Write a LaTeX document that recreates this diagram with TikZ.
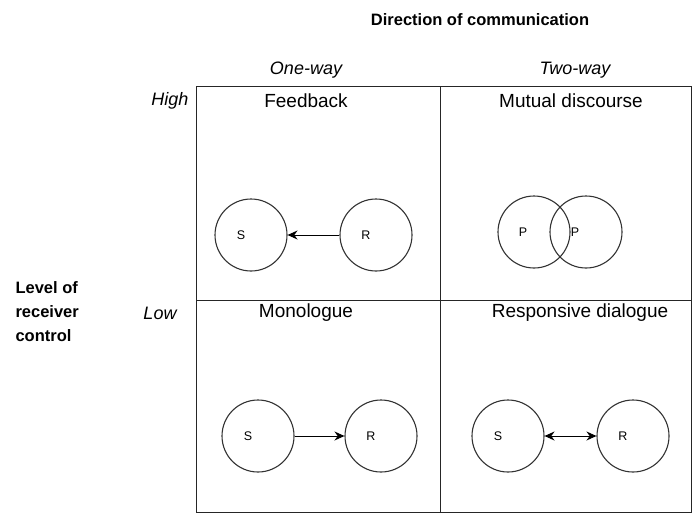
\documentclass[tikz,border=0pt]{standalone}
\usepackage{fontspec}
\setmainfont{Liberation Sans}
\usetikzlibrary{arrows.meta}
\begin{document}
\begin{tikzpicture}[x=1pt,y=-1pt,
  grid/.style={line width=1pt,draw=black!85},
  agent/.style={circle,draw=black!80,line width=1.1pt,minimum size=72pt,inner sep=0pt},
  lab/.style={font=\fontsize{12.5}{14}\selectfont},
  head/.style={font=\fontsize{19}{22}\selectfont},
  axis/.style={font=\itshape\fontsize{18}{21}\selectfont},
  title/.style={font=\bfseries\fontsize{16.5}{24}\selectfont},
  link/.style={line width=1pt,-{Stealth[length=10pt,width=9pt]}},
  dlink/.style={line width=1pt,{Stealth[length=10pt,width=9pt]}-{Stealth[length=10pt,width=9pt]}}]
\useasboundingbox (0,0) rectangle (692,516);
% grid
\draw[grid] (196,87) rectangle (691,512);
\draw[grid] (440,87) -- (440,512);
\draw[grid] (196,300) -- (691,300);
% titles
\node[title] (dir) at (480,20) {Direction of communication};
\node[axis] (one) at (306,70) {One-way};
\node[axis] (two) at (575,70) {Two-way};
\node[axis,anchor=east] (high) at (192,101) {High};
\node[axis] (low) at (160,313) {Low};
\node[title,align=left,anchor=west] (lev) at (12,312) {Level of\\receiver\\control};
% cell headers
\node[head] (fb) at (306,101) {Feedback};
\node[head] (md) at (571,101) {Mutual discourse};
\node[head] (mo) at (306,313) {Monologue};
\node[head] (rd) at (580,313) {Responsive dialogue};
% Feedback
\node[agent] (s1) at (251,235) {};
\node[agent] (r1) at (376,235) {};
\node[lab] at ([xshift=-10pt]s1.center) {S};
\node[lab] at ([xshift=-10pt]r1.center) {R};
\draw[link] (r1) -- (s1);
% Mutual discourse
\node[agent] (p1) at (534,232) {};
\node[agent] (p2) at (586,232) {};
\node[lab] at ([xshift=-11pt]p1.center) {P};
\node[lab] at ([xshift=-11pt]p2.center) {P};
% Monologue
\node[agent] (s2) at (258,436) {};
\node[agent] (r2) at (381,436) {};
\node[lab] at ([xshift=-10pt]s2.center) {S};
\node[lab] at ([xshift=-10pt]r2.center) {R};
\draw[link] (s2) -- (r2);
% Responsive dialogue
\node[agent] (s3) at (508,436) {};
\node[agent] (r3) at (633,436) {};
\node[lab] at ([xshift=-10pt]s3.center) {S};
\node[lab] at ([xshift=-10pt]r3.center) {R};
\draw[dlink] (s3) -- (r3);
\end{tikzpicture}
\end{document}
